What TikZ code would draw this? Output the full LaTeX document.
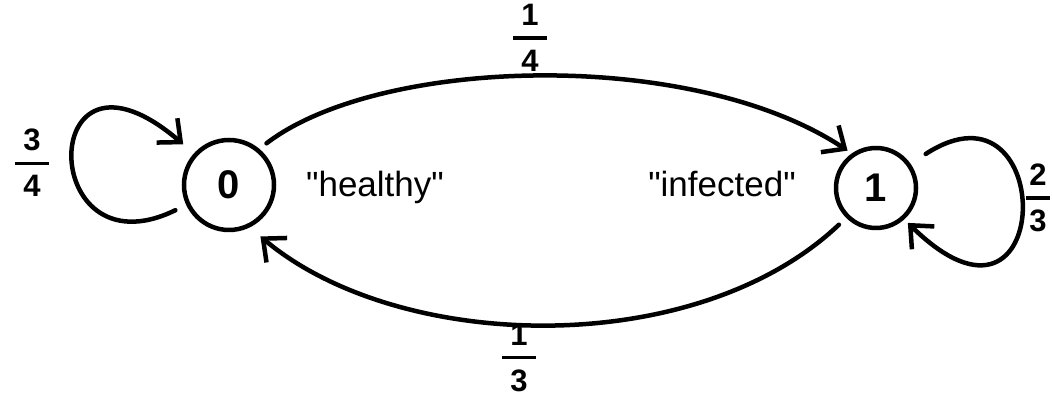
\documentclass[tikz,border=0pt]{standalone}
\usepackage{amsmath}
\usepackage{fontspec}
\setmainfont{Liberation Sans}[Ligatures=TeXOff]
\usepackage{tikz}
\usetikzlibrary{arrows.meta,positioning}
\newcommand{\prob}[3][8pt]{$\genfrac{}{}{3.5pt}{0}{\text{\hspace{#1}#2\hspace{#1}}}{\text{\hspace{#1}#3\hspace{#1}}}$}

\begin{document}
\begin{tikzpicture}[x=1pt,y=1pt,
    state/.style={circle,draw,line width=4.5pt,inner sep=0pt,font=\fontsize{40}{46}\bfseries},
    arc/.style={line width=4.5pt,line cap=round,line join=round,-{Straight Barb[length=18pt,width=32pt]}},
    word/.style={font=\fontsize{35}{40}\selectfont,anchor=base},
    frac/.style={font=\fontsize{31}{36}\bfseries,inner sep=0pt}]
  \useasboundingbox (0,0) rectangle (1052,398);
  % the two states
  \node[state,minimum size=90pt] (state0) at (229,213) {0};
  \node[state,minimum size=80pt] (state1) at (876,210) {1};
  \node[word] (healthy) at (375,201) {"healthy"};
  \node[word] (infected) at (722,201) {"infected"};
  % transitions
  \draw[arc,shorten <=9pt,shorten >=5pt] (state0.50) .. controls +(120,92) and +(-160,106) .. (state1.125);
  \draw[arc,shorten <=10pt,shorten >=14pt] (state1.225) .. controls +(-150,-142) and +(150,-126) .. (state0.296);
  \draw[arc,shorten <=12pt,shorten >=14pt] (state0.205) .. controls +(-150,-73) and +(-158,135) .. (state0.138);
  \draw[arc,shorten <=18pt,shorten >=5pt] (state1.35) .. controls +(148,96) and +(152,-149) .. (state1.312);
  % probabilities
  \node[frac] (p00) at (32,235) {\prob{3}{4}};
  \node[frac] (p01) at (530,360) {\prob{1}{4}};
  \node[frac] (p10) at (519,40) {\prob{1}{3}};
  \node[frac] (p11) at (1038,200) {\prob[3pt]{2}{3}};
\end{tikzpicture}
\end{document}
